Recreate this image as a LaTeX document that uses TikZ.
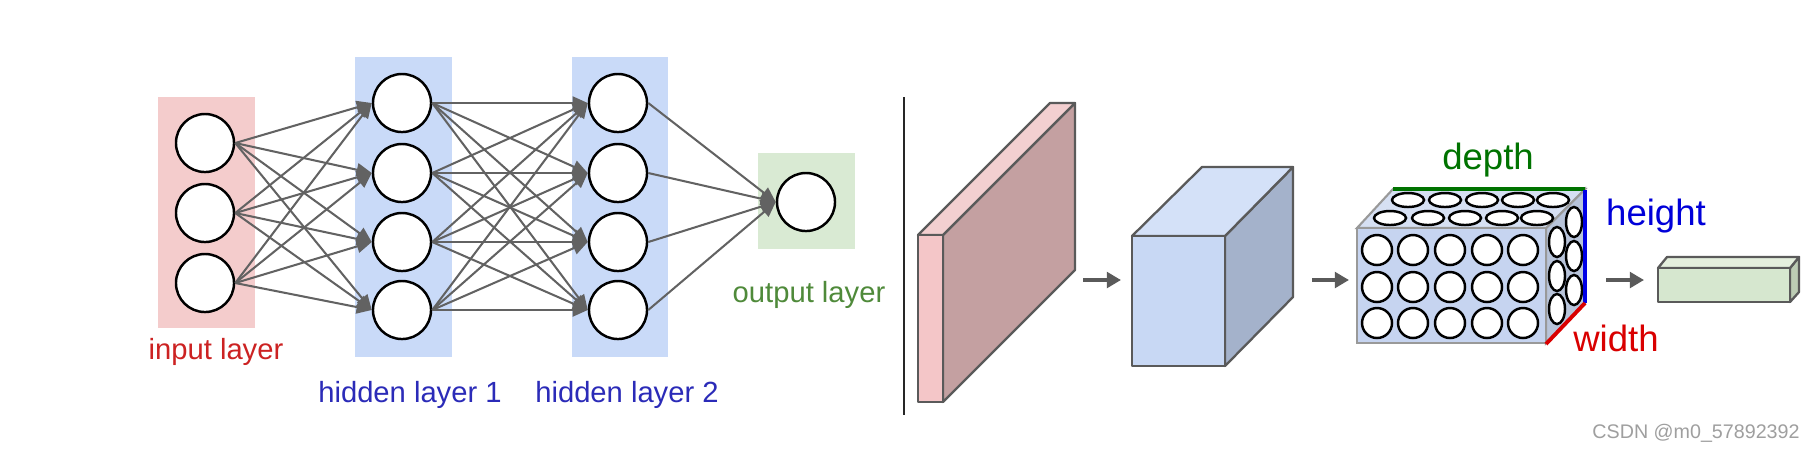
\documentclass[tikz,border=0pt]{standalone}
\usepackage{fontspec}
\setmainfont{Liberation Sans}
\usetikzlibrary{arrows.meta}
\definecolor{pinkL}{HTML}{F4CCCC}
\definecolor{blueL}{HTML}{C9DAF8}
\definecolor{greenL}{HTML}{D9EAD3}
\definecolor{connc}{HTML}{626262}
\definecolor{edgec}{HTML}{5A5A5A}
\definecolor{txtred}{HTML}{CC2222}
\definecolor{txtblue}{HTML}{2B2BB8}
\definecolor{txtgreen}{HTML}{4F8A3A}
\definecolor{slabfront}{HTML}{F4C6C8}
\definecolor{slabtop}{HTML}{F3CFD0}
\definecolor{slabside}{HTML}{C4A0A1}
\definecolor{cubefront}{HTML}{C8D8F4}
\definecolor{cubetop}{HTML}{D4E1F8}
\definecolor{cubeside}{HTML}{A4B2CB}
\definecolor{boxfront}{HTML}{C6D4F0}
\definecolor{boxtop}{HTML}{D6E0F3}
\definecolor{boxside}{HTML}{B8C4DA}
\definecolor{barfront}{HTML}{D6E7CF}
\definecolor{bartop}{HTML}{E4EFDD}
\definecolor{barside}{HTML}{BCCCB4}
\begin{document}
\begin{tikzpicture}[x=0.01cm,y=-0.01cm,
  neuron/.style={circle,draw=black,line width=0.7pt,fill=white,minimum size=0.58cm,inner sep=0},
  conn/.style={draw=connc,line width=0.58pt,-{Triangle[length=4.3pt,width=3.7pt]}},
  lbl/.style={inner sep=0,font=\fontsize{8.3}{10}\selectfont},
  dimlbl/.style={inner sep=0,font=\fontsize{10.4}{12}\selectfont},
  face/.style={draw=edgec,line width=0.65pt,line join=round},
  bigarrow/.style={draw=edgec,line width=1pt,-{Triangle[length=4pt,width=4.4pt]}},
  cell/.style={draw=black,line width=0.7pt,fill=white}]
\useasboundingbox[fill=white] (0,0) rectangle (1809,453);

% layer backgrounds
\fill[pinkL] (158,97) rectangle (255,328);
\fill[blueL] (355,57) rectangle (452,357);
\fill[blueL] (572,57) rectangle (668,357);
\fill[greenL] (758,153) rectangle (855,249);

% neurons
\foreach \k/\y in {1/143,2/213,3/283} \node[neuron] (i\k) at (205,\y) {};
\foreach \k/\y in {1/103,2/173,3/242,4/310} \node[neuron] (h\k) at (402,\y) {};
\foreach \k/\y in {1/103,2/173,3/242,4/310} \node[neuron] (g\k) at (618,\y) {};
\node[neuron] (o) at (806,202) {};

% connections
\foreach \a in {1,2,3} \foreach \b in {1,2,3,4} \draw[conn] (i\a.east) -- (h\b.west);
\foreach \a in {1,2,3,4} \foreach \b in {1,2,3,4} \draw[conn] (h\a.east) -- (g\b.west);
\foreach \a in {1,2,3,4} \draw[conn] (g\a.east) -- (o.west);

% labels
\node[lbl,text=txtred] (li) at (216,352) {input layer};
\node[lbl,text=txtblue] (lh1) at (410,395) {hidden layer 1};
\node[lbl,text=txtblue] (lh2) at (627,395) {hidden layer 2};
\node[lbl,text=txtgreen] (lo) at (809,295) {output layer};

% separator
\draw[black!85,line width=0.6pt] (904,97) -- (904,415);

% pink slab
\filldraw[face,fill=slabside] (943,235) -- (1075,103) -- (1075,270) -- (943,402) -- cycle;
\filldraw[face,fill=slabtop] (918,235) -- (1050,103) -- (1075,103) -- (943,235) -- cycle;
\filldraw[face,fill=slabfront] (918,235) rectangle (943,402);

% arrow 1
\coordinate (a1s) at (1083,280);
\coordinate (a1e) at (1121,280);
\draw[bigarrow] (a1s) -- (a1e);

% blue cube
\filldraw[face,fill=cubeside] (1225,236) -- (1293,167) -- (1293,297) -- (1225,366) -- cycle;
\filldraw[face,fill=cubetop] (1132,236) -- (1202,167) -- (1293,167) -- (1225,236) -- cycle;
\filldraw[face,fill=cubefront] (1132,236) rectangle (1225,366);

% arrow 2
\coordinate (a2s) at (1312,280);
\coordinate (a2e) at (1349,280);
\draw[bigarrow] (a2s) -- (a2e);

% box of neurons
\filldraw[draw=gray!80,line width=0.6pt,fill=boxside] (1546,228) -- (1585,189) -- (1585,303) -- (1546,343) -- cycle;
\filldraw[draw=gray!80,line width=0.6pt,fill=boxtop] (1357,228) -- (1393,189) -- (1585,189) -- (1546,228) -- cycle;
\filldraw[draw=gray!80,line width=0.6pt,fill=boxfront] (1357,228) rectangle (1546,343);
\foreach \x in {1408,1445,1482,1518,1553} \draw[cell] (\x,200) ellipse [x radius=16, y radius=7];
\foreach \x in {1390,1428,1465,1502,1537} \draw[cell] (\x,218) ellipse [x radius=16, y radius=7];
\foreach \y in {222,256,290} \draw[cell] (1574,\y) ellipse [x radius=8, y radius=15];
\foreach \y in {242,276,309} \draw[cell] (1557,\y) ellipse [x radius=8, y radius=15];
\foreach \x in {1377,1413,1450,1487,1523} \foreach \y in {250,287,323} \draw[cell] (\x,\y) circle [radius=15];
\draw[draw=green!45!black,line width=1.1pt] (1393,189) -- (1585,189);
\draw[draw=blue!90!black,line width=1.1pt] (1585,190) -- (1585,303);
\draw[draw=red!85!black,line width=1.1pt] (1546,344) -- (1585,303);
\node[dimlbl,text=green!45!black] (ld) at (1488,160) {depth};
\node[dimlbl,text=blue!85!black] (lht) at (1656,216) {height};
\node[dimlbl,text=red!85!black] (lw) at (1616,338) {width};

% arrow 3
\coordinate (a3s) at (1606,280);
\coordinate (a3e) at (1644,280);
\draw[bigarrow] (a3s) -- (a3e);

% green bar
\filldraw[face,fill=barside] (1790,268) -- (1799,257) -- (1799,292) -- (1790,302) -- cycle;
\filldraw[face,fill=bartop] (1658,268) -- (1667,257) -- (1799,257) -- (1790,268) -- cycle;
\filldraw[face,fill=barfront] (1658,268) rectangle (1790,302);

% watermark
\node[inner sep=0,text=gray!75,font=\fontsize{5.6}{7}\selectfont] (wm) at (1696,433) {CSDN @m0\_57892392};
\end{tikzpicture}
\end{document}
